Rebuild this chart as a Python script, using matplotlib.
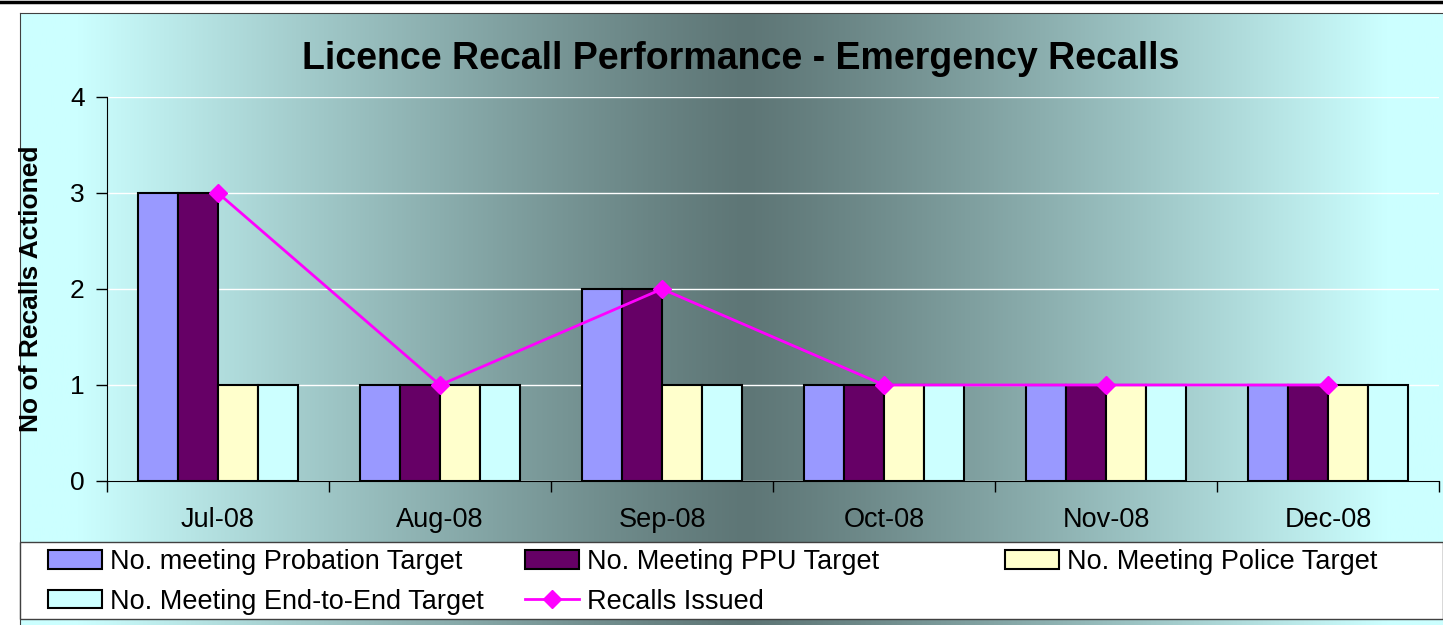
import numpy as np
import matplotlib
matplotlib.use("Agg")
import matplotlib.pyplot as plt
from matplotlib.patches import Rectangle
from matplotlib.lines import Line2D

MONTHS = ["Jul-08", "Aug-08", "Sep-08", "Oct-08", "Nov-08", "Dec-08"]
PROBATION = [3, 1, 2, 1, 1, 1]
PPU = [3, 1, 2, 1, 1, 1]
POLICE = [1, 1, 1, 1, 1, 1]
END_TO_END = [1, 1, 1, 1, 1, 1]
ISSUED = [3, 1, 2, 1, 1, 1]
YTICKS = [0, 1, 2, 3, 4]

BAR_SERIES = [
    ("No. meeting Probation Target", PROBATION, "#9999ff"),
    ("No. Meeting PPU Target", PPU, "#660066"),
    ("No. Meeting Police Target", POLICE, "#ffffcc"),
    ("No. Meeting End-to-End Target", END_TO_END, "#ccffff"),
]
LINE_LABEL = "Recalls Issued"
TITLE = "Licence Recall Performance - Emergency Recalls"
YLABEL = "No of Recalls Actioned"

W, H = 1443, 625
FS = 19.5
plt.rcParams["font.family"] = ["Liberation Sans", "DejaVu Sans"]


def px(x0, y0, x1, y1):
    # pixel box (origin top-left) -> figure rect
    return [x0 / W, 1 - y1 / H, (x1 - x0) / W, (y1 - y0) / H]


fig = plt.figure(figsize=(W / 100, H / 100), dpi=100)
fig.patch.set_facecolor("white")

# horizontal "centre" gradient behind the whole chart area
bg = fig.add_axes(px(20, 13, W, H))
f = np.linspace(0, 1, 800)
c = 0.51
d = np.where(f < c, (c - f) / c, (f - c) / (1 - c))
t = np.clip(d / 0.92, 0, 1) ** 1.15
light = np.array([204, 255, 255]) / 255
dark = np.array([94, 118, 118]) / 255
grad = dark + (light - dark) * t[:, None]
bg.imshow(grad[None, :, :], aspect="auto", extent=[0, 1, 0, 1])
bg.set_xticks([]); bg.set_yticks([])
for s in ("right", "bottom"):
    bg.spines[s].set_visible(False)
for s in ("left", "top"):
    bg.spines[s].set_color("#404040")

# ---- plot area ----
ax = fig.add_axes(px(107, 97, 1439, 481))
ax.patch.set_alpha(0)
x = np.arange(len(MONTHS))
w = 0.18
bars = []
for j, (lab, vals, col) in enumerate(BAR_SERIES):
    bars.append(ax.bar(x + (j - 1.5) * w, vals, w, color=col, edgecolor="black",
                       linewidth=1.5, label=lab, zorder=2))
line, = ax.plot(x, ISSUED, color="#ff00ff", lw=2, marker="D", ms=9, zorder=3,
                label=LINE_LABEL)

ax.set_xlim(-0.5, len(MONTHS) - 0.5)
ax.set_ylim(0, 4)
ax.set_yticks(YTICKS)
ax.yaxis.grid(True, color="white", lw=1)
ax.set_axisbelow(True)
for s in ("top", "right"):
    ax.spines[s].set_visible(False)

ax.set_xticks(np.arange(len(MONTHS) + 1) - 0.5)
ax.set_xticklabels([])
ax.set_xticks(x, minor=True)
ax.set_xticklabels(MONTHS, minor=True, fontsize=FS)
ax.tick_params(axis="x", which="major", direction="out", length=8, width=1)
ax.tick_params(axis="x", which="minor", length=0, pad=19)
ax.tick_params(axis="y", direction="out", length=8, width=1, labelsize=19, pad=8)
ax.set_ylabel(YLABEL, fontsize=19, fontweight="bold")
ax.yaxis.set_label_coords((43 - 107) / 1332, 0.5)

fig.text(741 / W, 1 - 59 / H, TITLE, ha="center", va="center",
         fontsize=27, fontweight="bold")

# top rule
fig.add_artist(Line2D([0, 1], [1 - 1.5 / H] * 2, transform=fig.transFigure,
                      color="black", lw=2.5))

# ---- legend box ----
fig.add_artist(Rectangle((20 / W, 1 - 619 / H), (W - 20) / W, 77 / H,
                         transform=fig.transFigure, facecolor="white",
                         edgecolor="#404040", lw=1, zorder=1))
cols = [[bars[0], bars[3]], [bars[1], line], [bars[2]]]
col_x = [48, 525, 1005]
for hs, cx in zip(cols, col_x):
    fig.legend(hs, [h.get_label() for h in hs], loc="upper left",
               bbox_to_anchor=(cx / W, 1 - 549 / H), frameon=False, fontsize=FS,
               handlelength=2.0, handleheight=0.68, handletextpad=0.28,
               labelspacing=0.5, borderpad=0, borderaxespad=0)

fig.savefig("out.png", dpi=100)
